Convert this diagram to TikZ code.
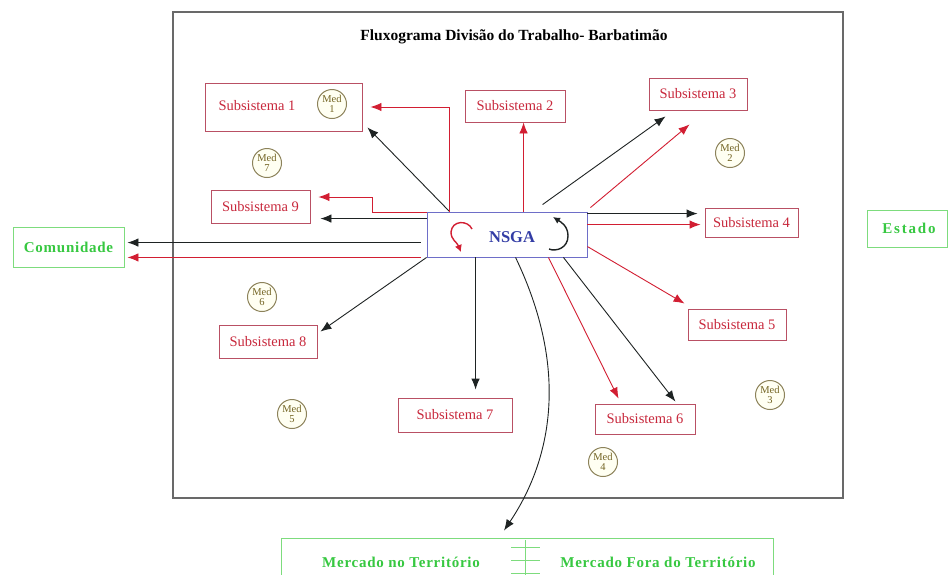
\documentclass[tikz,border=0pt]{standalone}
\usepackage{fontspec}
\setmainfont{Liberation Serif}
\newfontfamily\spacedbold[LetterSpace=5]{Liberation Serif}
\newfontfamily\widebold[LetterSpace=12]{Liberation Serif}
\usetikzlibrary{arrows.meta,calc}

\definecolor{frameGray}{RGB}{105,105,105}
\definecolor{subBorder}{RGB}{185,80,100}
\definecolor{subText}{RGB}{200,40,60}
\definecolor{flowRed}{RGB}{210,30,50}
\definecolor{flowBlack}{RGB}{30,35,35}
\definecolor{commGreen}{RGB}{55,200,65}
\definecolor{commBorder}{RGB}{125,220,125}
\definecolor{nsgaBorder}{RGB}{110,110,200}
\definecolor{nsgaText}{RGB}{50,60,165}
\definecolor{medLine}{RGB}{140,130,90}
\definecolor{medText}{RGB}{115,100,35}
\definecolor{medFill}{RGB}{255,255,242}

\begin{document}
\begin{tikzpicture}[x=1pt,y=-1pt,
  subbox/.style={draw=subBorder, line width=0.9pt, inner sep=0pt, fill=white},
  subtxt/.style={text=subText, font=\fontsize{14.5}{16}\selectfont},
  greenbox/.style={draw=commBorder, line width=0.9pt, inner sep=0pt, fill=white},
  greentxt/.style={text=commGreen, font=\spacedbold\bfseries\fontsize{15}{17}\selectfont},
  med/.style={circle, draw=medLine, fill=medFill, line width=1pt, minimum size=29pt,
    inner sep=0pt, align=center, text=medText, font=\fontsize{10.5}{9.5}\selectfont},
  blk/.style={draw=flowBlack, line width=0.9pt, -{Latex[length=11pt,width=8.5pt]}},
  rd/.style={draw=flowRed, line width=0.9pt, -{Latex[length=11pt,width=8.5pt]}},
]
\clip (0,0) rectangle (949,574);
\fill[white] (0,0) rectangle (949,574);

% outer frame of the flowchart
\draw[frameGray, line width=1.5pt] (173,12) rectangle (843,498);
\node[font=\bfseries\fontsize{15.5}{17}\selectfont] (title) at (514,37)
  {Fluxograma Divisão do Trabalho- Barbatimão};

% central unit with its two cycle symbols
\node[draw=nsgaBorder, line width=0.9pt, fill=white, minimum width=160pt,
  minimum height=45pt, inner sep=0pt] (nsga) at (507,234.5) {};
\node[text=nsgaText, font=\bfseries\fontsize{16.5}{18}\selectfont] (nsgat) at (512,237) {NSGA};
\draw[flowRed, line width=1.4pt, -{Latex[length=7pt,width=7.5pt]}]
  (472,229) .. controls (468,220) and (452,220) .. (451,232)
            .. controls (451,240) and (457,242) .. (461,252);
\draw[flowBlack, line width=1.4pt, -{Latex[length=7pt,width=7pt]}]
  (549,249) .. controls (556,252) and (568,248) .. (568,236)
            .. controls (568,226) and (561,222) .. (553,217);

% subsystems
\node[subbox, minimum width=157pt, minimum height=48pt] (sub1) at (283.5,107) {};
\node[subtxt] (sub1t) at (257,106) {Subsistema 1};
\node[subbox, subtxt, minimum width=100pt, minimum height=32pt] (sub2) at (515,106) {Subsistema 2};
\node[subbox, subtxt, minimum width=98pt, minimum height=32pt] (sub3) at (698,94) {Subsistema 3};
\node[subbox, subtxt, minimum width=93pt, minimum height=29pt] (sub4) at (751.5,222.5) {Subsistema 4};
\node[subbox, subtxt, minimum width=98pt, minimum height=31pt] (sub5) at (737,324.5) {Subsistema 5};
\node[subbox, subtxt, minimum width=100pt, minimum height=30pt] (sub6) at (645,419) {Subsistema 6};
\node[subbox, subtxt, minimum width=114pt, minimum height=34pt] (sub7) at (455,415) {Subsistema 7};
\node[subbox, subtxt, minimum width=98pt, minimum height=33pt] (sub8) at (268,341.5) {Subsistema 8};
\node[subbox, subtxt, minimum width=99pt, minimum height=33pt] (sub9) at (260.5,206.5) {Subsistema 9};

% mediators
\node[med] (med1) at (332,104) {Med\\1};
\node[med] (med2) at (730,153) {Med\\2};
\node[med] (med3) at (770,395) {Med\\3};
\node[med] (med4) at (603,462) {Med\\4};
\node[med] (med5) at (292,414) {Med\\5};
\node[med] (med6) at (262,297) {Med\\6};
\node[med] (med7) at (267,163) {Med\\7};

% external actors
\node[greenbox, greentxt, minimum width=111pt, minimum height=40pt] (com) at (68.5,247) {Comunidade};
\node[greenbox, minimum width=80pt, minimum height=37pt] (est) at (907,228.5) {};
\node[text=commGreen, font=\widebold\bfseries\fontsize{15}{17}\selectfont] (estt) at (909,228.5) {Estado};
\node[greenbox, minimum width=492pt, minimum height=62pt] (merc) at (527,569) {};
\node[greentxt] (mercIn) at (401,562) {Mercado no Território};
\node[greentxt] (mercOut) at (658,562) {Mercado Fora do Território};
\draw[commBorder, line width=0.9pt]
  (525,540) -- (525,580)
  (511,547) -- (540,547)
  (511,560) -- (540,560)
  (511,573) -- (540,573);

% black flows
\draw[blk] ([xshift=23pt]nsga.north west) -- ([xshift=5pt,yshift=4pt]sub1.south east);
\draw[blk, shorten >=10pt] ([yshift=-7pt]nsga.north west) -- ([yshift=-7pt]nsga.north west -| sub9.east);
\draw[blk, shorten <=6pt, shorten >=3pt] ([yshift=-31pt]nsga.north west) -- ([yshift=-31pt]nsga.north west -| com.east);
\draw[blk] (nsga.south west) -- ([xshift=3pt,yshift=-7pt]sub8.north east);
\draw[blk, shorten >=8pt] ([xshift=49pt]nsga.south west) -- ([xshift=49pt]nsga.south west |- sub7.north);
\draw[blk] ([xshift=-24pt]nsga.south east) -- ([xshift=-20pt,yshift=2pt]sub6.north east);
\draw[blk] ([xshift=116pt,yshift=7pt]nsga.north west) -- ([xshift=17pt,yshift=-6pt]sub3.south west);
\draw[blk, shorten >=7pt] ([yshift=-2pt]nsga.north east) -- ([yshift=-2pt]nsga.north east -| sub4.west);
\draw[blk] ([xshift=89pt]nsga.south west) .. controls +(59,123) and +(41,-61) .. ([xshift=-23pt,yshift=7pt]merc.north);

% red flows
\draw[rd] ([xshift=23pt]nsga.north west) |- ([xshift=8pt]sub1.east);
\draw[rd] ([yshift=-1pt]nsga.north west) -- ++(-54,0) |- ([xshift=8pt,yshift=9.5pt]sub9.east);
\draw[rd, shorten <=6pt, shorten >=3pt] (nsga.south west) -- (nsga.south west -| com.east);
\draw[rd] ([xshift=97pt]nsga.north west) -- ([xshift=97pt]nsga.north west |- sub2.south);
\draw[rd] ([xshift=3pt,yshift=4pt]nsga.north east) -- ([xshift=41pt,yshift=-14pt]sub3.south west);
\draw[rd, shorten >=4pt] ([yshift=-13pt]nsga.north east) -- ([yshift=-13pt]nsga.north east -| sub4.west);
\draw[rd] ([yshift=-35pt]nsga.north east) -- ([xshift=-3pt,yshift=5pt]sub5.north west);
\draw[rd] ([xshift=-39pt]nsga.south east) -- ([xshift=24pt,yshift=5pt]sub6.north west);
\end{tikzpicture}
\end{document}
